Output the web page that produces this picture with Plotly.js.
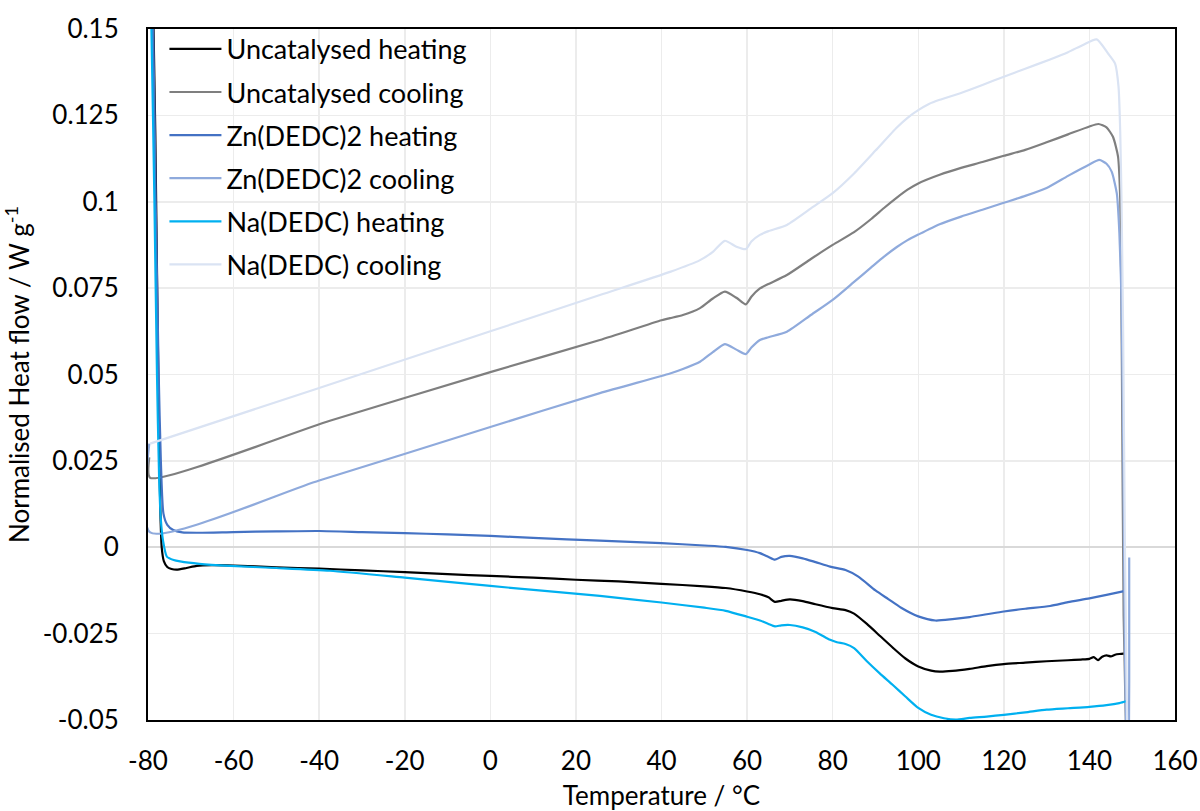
<!DOCTYPE html>
<html>
<head>
<meta charset="utf-8">
<script src="https://cdn.plot.ly/plotly-3.0.1.min.js"></script>
<style>html,body{margin:0;padding:0;background:#fff;}#chart{width:1200px;height:811px;}</style>
</head>
<body>
<div id="chart"></div>
<script>
// ---- Data ----
const seriesNames = ["Uncatalysed heating", "Uncatalysed cooling", "Zn(DEDC)2 heating", "Zn(DEDC)2 cooling", "Na(DEDC) heating", "Na(DEDC) cooling"];

const uncatHeatT = [-79.6, -78.7, -78.0, -77.4, -77.1, -76.8, -76.3, -75.5, -74.5, -73.3, -71, -68.6, -65, -60, -50, -40, -30, -20, -10, 0, 10, 20, 30, 40, 50, 55, 60, 63, 65, 66.5, 68, 70, 73, 76, 80, 83, 85, 88, 91, 94, 97, 100, 103, 105, 108, 112, 116, 120, 125, 130, 135, 138, 140, 141, 142, 142.5, 143, 144, 145, 146, 147, 148, 148.6];
const uncatHeatY = [0.17, 0.15, 0.09, 0.03, 0.01, 0.0, -0.004, -0.0057, -0.0063, -0.0065, -0.006, -0.0054, -0.0052, -0.0053, -0.0058, -0.0062, -0.0067, -0.0072, -0.0078, -0.0083, -0.0088, -0.0094, -0.0099, -0.0106, -0.0113, -0.0118, -0.0128, -0.0136, -0.0145, -0.0158, -0.0155, -0.0151, -0.0156, -0.0165, -0.0176, -0.0182, -0.0192, -0.0222, -0.0256, -0.029, -0.0322, -0.0345, -0.0357, -0.036, -0.0358, -0.0352, -0.0344, -0.0338, -0.0334, -0.033, -0.0327, -0.0325, -0.0323, -0.0318, -0.0327, -0.0322, -0.0317, -0.0313, -0.0316, -0.0311, -0.0309, -0.0308, -0.0306];

const uncatCoolT = [149.0, 148.0, 147.6, 147.2, 146.7, 145.5, 144, 142.1, 140, 135, 130, 125, 120, 115, 110, 105, 100, 97.5, 95, 92, 89, 85, 80, 75, 69.3, 65, 63, 61, 59.7, 57.5, 54.8, 52, 49, 45, 42, 40, 25.6, 0, -37.5, -79.5, -79.7];
const uncatCoolY = [-0.08, -0.02, 0.05, 0.1005, 0.113, 0.1188, 0.1215, 0.1225, 0.1218, 0.1195, 0.1172, 0.115, 0.1133, 0.1115, 0.1098, 0.1078, 0.1053, 0.1035, 0.1012, 0.0982, 0.095, 0.0912, 0.0875, 0.0835, 0.0788, 0.0762, 0.0749, 0.0725, 0.0703, 0.0722, 0.074, 0.072, 0.0692, 0.0672, 0.0663, 0.0657, 0.06, 0.0507, 0.0366, 0.0201, 0.026];

const znHeatT = [-79.6, -78.8, -78.2, -77.5, -77, -76.4, -75.5, -74.1, -72, -68, -60, -50, -40, -30, -20, -10, 0, 10, 25.6, 40, 50, 55, 60, 63, 65, 66.5, 68, 70, 73, 76, 79.4, 83, 86, 90, 93, 96, 100, 104, 108, 112, 116, 120, 125, 130.8, 135, 140, 144, 148.1];
const znHeatY = [0.17, 0.15, 0.1, 0.05, 0.025, 0.0098, 0.0065, 0.005, 0.0043, 0.0042, 0.0044, 0.0046, 0.0047, 0.0044, 0.0041, 0.0037, 0.0033, 0.0027, 0.0019, 0.0012, 0.0005, 0.0001, -0.0008, -0.0017, -0.0028, -0.0036, -0.0028, -0.0025, -0.0032, -0.0043, -0.0056, -0.0066, -0.0085, -0.0125, -0.015, -0.0175, -0.02, -0.0212, -0.0208, -0.0202, -0.0194, -0.0186, -0.0178, -0.017, -0.0159, -0.0148, -0.0138, -0.0127];

const znCoolT = [149.3, 149.3, 149.0, 148.3, 147.9, 147.5, 147, 146.4, 145.2, 144, 142.3, 140, 135, 130, 125, 120, 115, 110, 105, 100, 97.5, 95, 92, 89, 85, 80, 75, 69.3, 65, 63, 61, 59.7, 57.5, 54.8, 52, 49, 45, 42, 25.6, 0, -40, -79.5, -79.7];
const znCoolY = [-0.003, -0.039, -0.08, -0.03, 0.03, 0.0716, 0.091, 0.1024, 0.1087, 0.111, 0.1121, 0.1108, 0.1075, 0.104, 0.1017, 0.0997, 0.0977, 0.0957, 0.0935, 0.0905, 0.0889, 0.0869, 0.0841, 0.081, 0.0768, 0.0716, 0.0673, 0.0624, 0.0608, 0.06, 0.0578, 0.0559, 0.0572, 0.0588, 0.0565, 0.0537, 0.0516, 0.0503, 0.0446, 0.0348, 0.0193, 0.0043, 0.03];

const naHeatT = [-79.6, -79.2, -78.5, -77.9, -77.4, -77, -76.5, -75.6, -74, -72.5, -68, -60.8, -50, -37.5, -20, 0, 25.6, 40, 50, 55, 60, 63, 65, 66.5, 68, 70, 73, 76, 79.4, 81, 83, 85, 88, 91, 94, 97, 100, 103, 106, 108.8, 112, 116, 120, 125, 130, 135, 140, 144, 147, 148.8];
const naHeatY = [0.17, 0.15, 0.1, 0.05, 0.02, 0.008, 0.002, -0.0027, -0.0037, -0.0041, -0.0048, -0.0054, -0.006, -0.0068, -0.0088, -0.0112, -0.0141, -0.016, -0.0175, -0.0184, -0.0201, -0.0212, -0.0222, -0.0229, -0.0226, -0.0225, -0.0232, -0.0245, -0.0268, -0.0275, -0.028, -0.0292, -0.033, -0.0365, -0.0398, -0.0432, -0.0465, -0.0485, -0.0495, -0.0499, -0.0494, -0.049, -0.0485, -0.0478, -0.047, -0.0466, -0.0462, -0.0457, -0.0451, -0.0445];

const naCoolT = [149.2, 148.8, 148.3, 147.9, 147.5, 147.2, 146.8, 146, 144.3, 141.7, 138.5, 135, 130.8, 125, 120, 115, 110, 105, 102.5, 100, 97.5, 95, 90, 85, 80, 75.4, 69.3, 65, 63, 61, 59.7, 57.5, 54.8, 52, 49, 42, 25.6, 0, -40, -79.5];
const naCoolY = [-0.08, -0.05, 0.0, 0.06, 0.1005, 0.12, 0.1333, 0.14, 0.143, 0.147, 0.1454, 0.1433, 0.1412, 0.1385, 0.1362, 0.1338, 0.1315, 0.1295, 0.1283, 0.1265, 0.1243, 0.1215, 0.1148, 0.1082, 0.1025, 0.0985, 0.0933, 0.0915, 0.0904, 0.0885, 0.0863, 0.087, 0.0887, 0.0855, 0.0831, 0.0797, 0.073, 0.0625, 0.0461, 0.030];

const xTickVals = [-80, -60, -40, -20, 0, 20, 40, 60, 80, 100, 120, 140, 160];
const xTickText = ["-80", "-60", "-40", "-20", "0", "20", "40", "60", "80", "100", "120", "140", "160"];
const yTickVals = [-0.05, -0.025, 0, 0.025, 0.05, 0.075, 0.1, 0.125, 0.15];
const yTickText = ["-0.05", "-0.025", "0", "0.025", "0.05", "0.075", "0.1", "0.125", "0.15"];

const colors = ["#000000", "#7F7F7F", "#4472C4", "#8FAADC", "#00B0F0", "#DAE3F3"];
const xs = [uncatHeatT, uncatCoolT, znHeatT, znCoolT, naHeatT, naCoolT];
const ys = [uncatHeatY, uncatCoolY, znHeatY, znCoolY, naHeatY, naCoolY];

const FONT = "Lato, 'Open Sans', sans-serif";

const traces = seriesNames.map((n, i) => ({
  type: "scatter",
  mode: "lines",
  name: n,
  x: xs[i],
  y: ys[i],
  legendgroup: "g" + i,
  line: {color: colors[i], width: 2.2, shape: "spline", smoothing: 0.6},
  hoverinfo: "skip"
}));

const layout = {
  width: 1200,
  height: 811,
  margin: {l: 148, r: 25, t: 29, b: 91, pad: 0},
  paper_bgcolor: "#ffffff",
  plot_bgcolor: "#ffffff",
  font: {family: FONT, size: 26, color: "#000000"},
  showlegend: true,
  legend: {
    x: 0.016, y: 1.006, xanchor: "left", yanchor: "top",
    bgcolor: "rgba(255,255,255,0)",
    borderwidth: 0,
    font: {family: FONT, size: 27, color: "#000000"},
    traceorder: "grouped",
    tracegroupgap: 5,
    itemwidth: 52
  },
  xaxis: {
    range: [-80, 160],
    tickvals: xTickVals,
    ticktext: xTickText,
    showgrid: true,
    gridcolor: "#ececec",
    gridwidth: 1.5,
    zeroline: false,
    showline: true,
    mirror: true,
    linecolor: "#000000",
    linewidth: 2,
    ticks: "",
    ticklabelstandoff: 17,
    tickfont: {family: FONT, size: 26, color: "#000000"},
    title: {text: "Temperature / °C", font: {family: FONT, size: 26, color: "#000000"}, standoff: 14},
    automargin: false
  },
  yaxis: {
    range: [-0.05, 0.15],
    tickvals: yTickVals,
    ticktext: yTickText,
    showgrid: true,
    gridcolor: "#ececec",
    gridwidth: 1.5,
    zeroline: true,
    zerolinecolor: "#d9d9d9",
    zerolinewidth: 2,
    showline: true,
    mirror: true,
    linecolor: "#000000",
    linewidth: 2,
    ticks: "",
    ticklabelstandoff: 22,
    tickfont: {family: FONT, size: 26, color: "#000000"},
    title: {text: "Normalised Heat flow / W g<sup>-1</sup>", font: {family: FONT, size: 26, color: "#000000"}, standoff: 13},
    automargin: true
  }
};

Plotly.newPlot("chart", traces, layout, {staticPlot: true, displayModeBar: false});
</script>
</body>
</html>
